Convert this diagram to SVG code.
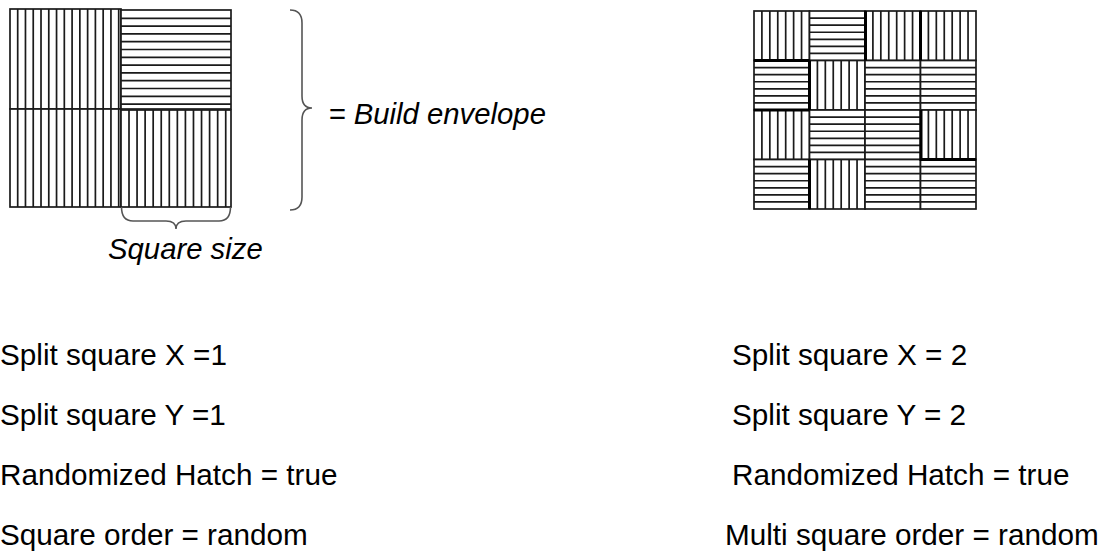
<svg xmlns="http://www.w3.org/2000/svg" width="1108" height="556" viewBox="0 0 1108 556">
<style>
.cell{fill:#fff;stroke:#1a1a1a;stroke-width:1.7}
.hatch{fill:none;stroke:#1a1a1a;stroke-width:1.7}
.thick{fill:none;stroke:#000;stroke-width:3}
.brace{fill:none;stroke:#555;stroke-width:1.6}
.lbl{font-family:"Liberation Sans",Arial,sans-serif;font-size:29.7px;fill:#000}
.it{font-style:italic;font-size:29.3px}
</style>
<rect width="1108" height="556" fill="#fff"/>
<g id="left-grid">
<g id="L-TL"><rect class="cell" x="10" y="9" width="111" height="100"/><path class="hatch" d="M17.7,9v100m7.77,-100v100m7.77,-100v100m7.77,-100v100m7.77,-100v100m7.77,-100v100m7.77,-100v100m7.77,-100v100m7.77,-100v100m7.77,-100v100m7.77,-100v100m7.77,-100v100m7.77,-100v100m7.77,-100v100"/></g>
<g id="L-TR"><rect class="cell" x="121" y="10" width="110" height="99"/><path class="hatch" d="M121,18.3h110m-110,7.8h110m-110,7.8h110m-110,7.8h110m-110,7.8h110m-110,7.8h110m-110,7.8h110m-110,7.8h110m-110,7.8h110m-110,7.8h110m-110,7.8h110m-110,7.8h110"/></g>
<g id="L-BL"><rect class="cell" x="10" y="109" width="111" height="98"/><path class="hatch" d="M17.7,109v98m7.77,-98v98m7.77,-98v98m7.77,-98v98m7.77,-98v98m7.77,-98v98m7.77,-98v98m7.77,-98v98m7.77,-98v98m7.77,-98v98m7.77,-98v98m7.77,-98v98m7.77,-98v98m7.77,-98v98"/></g>
<g id="L-BR"><rect class="cell" x="121" y="110" width="110" height="97"/><path class="hatch" d="M129,110v97m8.06,-97v97m8.06,-97v97m8.06,-97v97m8.06,-97v97m8.06,-97v97m8.06,-97v97m8.06,-97v97m8.06,-97v97m8.06,-97v97m8.06,-97v97m8.06,-97v97m8.06,-97v97"/></g>
</g>
<g id="right-grid">
<g id="R00"><rect class="cell" x="754" y="11" width="55.5" height="49.5"/><path class="hatch" d="M761.9,11v49.5m7.93,-49.5v49.5m7.93,-49.5v49.5m7.93,-49.5v49.5m7.93,-49.5v49.5m7.93,-49.5v49.5"/></g>
<g id="R01"><rect class="cell" x="809.5" y="11" width="55.5" height="49.5"/><path class="hatch" d="M809.5,18.1h55.5m-55.5,7.07h55.5m-55.5,7.07h55.5m-55.5,7.07h55.5m-55.5,7.07h55.5m-55.5,7.07h55.5"/></g>
<g id="R02"><rect class="cell" x="865" y="11" width="55.5" height="49.5"/><path class="hatch" d="M872.9,11v49.5m7.93,-49.5v49.5m7.93,-49.5v49.5m7.93,-49.5v49.5m7.93,-49.5v49.5m7.93,-49.5v49.5"/></g>
<g id="R03"><rect class="cell" x="920.5" y="11" width="55.5" height="49.5"/><path class="hatch" d="M928.4,11v49.5m7.93,-49.5v49.5m7.93,-49.5v49.5m7.93,-49.5v49.5m7.93,-49.5v49.5m7.93,-49.5v49.5"/></g>
<g id="R10"><rect class="cell" x="754" y="60.5" width="55.5" height="49.5"/><path class="hatch" d="M754,67.6h55.5m-55.5,7.07h55.5m-55.5,7.07h55.5m-55.5,7.07h55.5m-55.5,7.07h55.5m-55.5,7.07h55.5"/></g>
<g id="R11"><rect class="cell" x="809.5" y="60.5" width="55.5" height="49.5"/><path class="hatch" d="M817.4,60.5v49.5m7.93,-49.5v49.5m7.93,-49.5v49.5m7.93,-49.5v49.5m7.93,-49.5v49.5m7.93,-49.5v49.5"/></g>
<g id="R12"><rect class="cell" x="865" y="60.5" width="55.5" height="49.5"/><path class="hatch" d="M865,67.6h55.5m-55.5,7.07h55.5m-55.5,7.07h55.5m-55.5,7.07h55.5m-55.5,7.07h55.5m-55.5,7.07h55.5"/></g>
<g id="R13"><rect class="cell" x="920.5" y="60.5" width="55.5" height="49.5"/><path class="hatch" d="M920.5,67.6h55.5m-55.5,7.07h55.5m-55.5,7.07h55.5m-55.5,7.07h55.5m-55.5,7.07h55.5m-55.5,7.07h55.5"/></g>
<g id="R20"><rect class="cell" x="754" y="110" width="55.5" height="49.5"/><path class="hatch" d="M761.9,110v49.5m7.93,-49.5v49.5m7.93,-49.5v49.5m7.93,-49.5v49.5m7.93,-49.5v49.5m7.93,-49.5v49.5"/></g>
<g id="R21"><rect class="cell" x="809.5" y="110" width="55.5" height="49.5"/><path class="hatch" d="M809.5,117.1h55.5m-55.5,7.07h55.5m-55.5,7.07h55.5m-55.5,7.07h55.5m-55.5,7.07h55.5m-55.5,7.07h55.5"/></g>
<g id="R22"><rect class="cell" x="865" y="110" width="55.5" height="49.5"/><path class="hatch" d="M865,117.1h55.5m-55.5,7.07h55.5m-55.5,7.07h55.5m-55.5,7.07h55.5m-55.5,7.07h55.5m-55.5,7.07h55.5"/></g>
<g id="R23"><rect class="cell" x="920.5" y="110" width="55.5" height="49.5"/><path class="hatch" d="M928.4,110v49.5m7.93,-49.5v49.5m7.93,-49.5v49.5m7.93,-49.5v49.5m7.93,-49.5v49.5m7.93,-49.5v49.5"/></g>
<g id="R30"><rect class="cell" x="754" y="159.5" width="55.5" height="49.5"/><path class="hatch" d="M754,166.6h55.5m-55.5,7.07h55.5m-55.5,7.07h55.5m-55.5,7.07h55.5m-55.5,7.07h55.5m-55.5,7.07h55.5"/></g>
<g id="R31"><rect class="cell" x="809.5" y="159.5" width="55.5" height="49.5"/><path class="hatch" d="M817.4,159.5v49.5m7.93,-49.5v49.5m7.93,-49.5v49.5m7.93,-49.5v49.5m7.93,-49.5v49.5m7.93,-49.5v49.5"/></g>
<g id="R32"><rect class="cell" x="865" y="159.5" width="55.5" height="49.5"/><path class="hatch" d="M865,166.6h55.5m-55.5,7.07h55.5m-55.5,7.07h55.5m-55.5,7.07h55.5m-55.5,7.07h55.5m-55.5,7.07h55.5"/></g>
<g id="R33"><rect class="cell" x="920.5" y="159.5" width="55.5" height="49.5"/><path class="hatch" d="M920.5,166.6h55.5m-55.5,7.07h55.5m-55.5,7.07h55.5m-55.5,7.07h55.5m-55.5,7.07h55.5m-55.5,7.07h55.5"/></g>
<path class="thick" d="M754,60.5h55.5M754,110h55.5M809.5,60.5v49.5M809.5,159.5v49.5M865.5,11v49.5M920.5,11v49.5M921,110v49.5h55"/>
</g>
<g id="connectors">
<path class="brace" d="M290,10Q302,10 302,23L302,96Q302,108 312,108Q302,108 302,120L302,197Q302,210 290,210"/>
<path class="brace" d="M121.5,207Q121.5,221 133,221L166,221Q176,221 176,229Q176,221 186,221L219,221Q230.5,221 230.5,207"/>
</g>
<g id="labels">
<text class="lbl it" x="328.5" y="124">= Build envelope</text>
<text class="lbl it" x="108" y="259">Square size</text>
<text class="lbl" x="0" y="365">Split square X =1</text>
<text class="lbl" x="0" y="425">Split square Y =1</text>
<text class="lbl" x="0" y="485">Randomized Hatch = true</text>
<text class="lbl" x="0" y="545">Square order = random</text>
<text class="lbl" x="732" y="365">Split square X = 2</text>
<text class="lbl" x="732" y="425">Split square Y = 2</text>
<text class="lbl" x="732" y="485">Randomized Hatch = true</text>
<text class="lbl" x="725" y="545">Multi square order = random</text>
</g>
</svg>
